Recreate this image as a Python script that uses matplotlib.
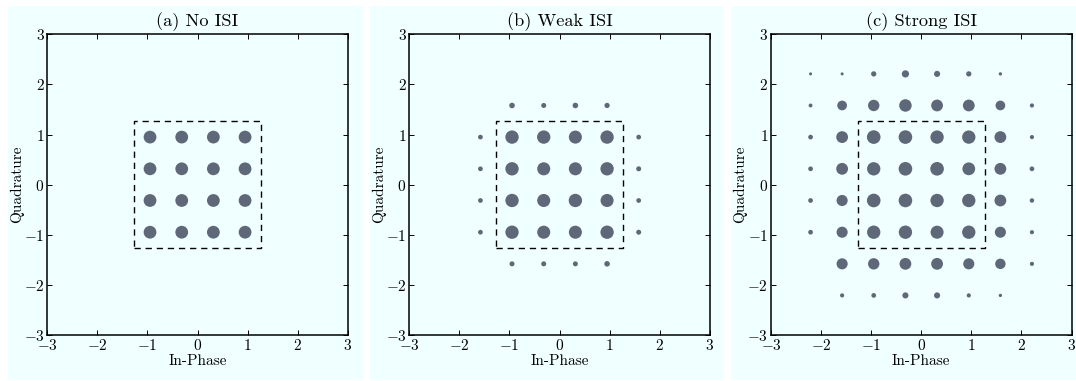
import numpy as np
import matplotlib
matplotlib.use('Agg')
import matplotlib.pyplot as plt
from matplotlib.patches import Rectangle

plt.rcParams['font.family'] = ['cmr10', 'DejaVu Serif']
plt.rcParams['mathtext.fontset'] = 'cm'
plt.rcParams['axes.formatter.use_mathtext'] = True
plt.rcParams['font.size'] = 11

# 64-point grid of symbol levels (16-QAM plus ISI spill-over), normalised
levels = [-2.21, -1.58, -0.949, -0.316, 0.316, 0.949, 1.58, 2.21]
titles = ['(a) No ISI', '(b) Weak ISI', '(c) Strong ISI']
box_half = 1.265

# apparent cloud diameter (pt) at each grid point, rows from top (Q=2.21) to bottom
size_a = [
    [0, 0, 0, 0, 0, 0, 0, 0],
    [0, 0, 0, 0, 0, 0, 0, 0],
    [0, 0, 9.2, 9.2, 9.2, 9.2, 0, 0],
    [0, 0, 9.2, 9.2, 9.2, 9.2, 0, 0],
    [0, 0, 9.2, 9.2, 9.2, 9.2, 0, 0],
    [0, 0, 9.2, 9.2, 9.2, 9.2, 0, 0],
    [0, 0, 0, 0, 0, 0, 0, 0],
    [0, 0, 0, 0, 0, 0, 0, 0],
]
size_b = [
    [0, 0, 0, 0, 0, 0, 0, 0],
    [0, 0, 4.0, 3.6, 4.0, 3.8, 0, 0],
    [0, 3.4, 9.6, 9.6, 9.4, 9.6, 3.4, 0],
    [0, 3.4, 9.6, 9.4, 9.4, 9.6, 3.6, 0],
    [0, 3.4, 9.6, 9.4, 9.6, 9.4, 3.4, 0],
    [0, 3.4, 9.6, 9.4, 9.4, 9.6, 3.6, 0],
    [0, 0, 3.6, 3.6, 3.6, 4.0, 0, 0],
    [0, 0, 0, 0, 0, 0, 0, 0],
]
size_c = [
    [2.2, 2.2, 3.8, 5.2, 4.4, 3.8, 2.4, 0],
    [2.8, 7.0, 8.2, 9.0, 8.5, 8.5, 7.0, 3.0],
    [3.4, 8.5, 9.8, 9.8, 9.6, 9.6, 8.5, 3.0],
    [3.4, 8.5, 9.6, 9.8, 9.8, 9.2, 8.5, 3.4],
    [3.4, 8.0, 9.8, 9.8, 9.6, 9.6, 8.5, 3.2],
    [3.4, 8.0, 9.6, 9.6, 9.4, 9.6, 8.0, 3.0],
    [0, 8.0, 8.2, 8.5, 8.5, 8.0, 7.5, 3.0],
    [0, 3.0, 3.4, 4.4, 4.4, 3.0, 2.4, 0],
]
sizes = [size_a, size_b, size_c]

W, H = 1076, 381
fig = plt.figure(figsize=(W / 100, H / 100), dpi=100)
bg = '#f0ffff'
dot = '#5f6878'

panels = [(8, 363), (370, 723), (731, 1076)]
ax_left = [47.3, 409.3, 771.0]

for k in range(3):
    x0, x1 = panels[k]
    # light panel backdrop behind each subplot
    back = fig.add_axes([x0 / W, 1 / H, (x1 - x0) / W, 374 / H], zorder=-5)
    back.set_facecolor(bg)
    back.axis('off')
    back.add_patch(Rectangle((0, 0), 1, 1, transform=back.transAxes,
                             facecolor=bg, edgecolor='none'))

    ax = fig.add_axes([ax_left[k] / W, 46 / H, 300.5 / W, 300.7 / H])
    ax.set_facecolor(bg)

    grid = np.array(sizes[k])
    xs, ys, ss = [], [], []
    for r, q in enumerate(levels[::-1]):
        for c, i in enumerate(levels):
            if grid[r, c] > 0:
                xs.append(i)
                ys.append(q)
                ss.append(grid[r, c] ** 2)
    ax.scatter(xs, ys, s=ss, c=dot, edgecolors='none', zorder=2)

    ax.plot([-box_half, box_half, box_half, -box_half, -box_half],
            [-box_half, -box_half, box_half, box_half, -box_half],
            'k--', lw=1.0, dashes=(4.5, 3.5), zorder=3)

    ax.set_xlim(-3, 3)
    ax.set_ylim(-3, 3)
    ax.set_xticks(range(-3, 4))
    ax.set_yticks(range(-3, 4))
    ax.tick_params(direction='in', length=3.5, width=0.7, top=True, right=True, pad=2)
    for sp in ax.spines.values():
        sp.set_linewidth(1.1)
    ax.set_title(titles[k], pad=6)
    ax.set_xlabel('In-Phase', labelpad=1)
    ax.set_ylabel('Quadrature', labelpad=0)

fig.savefig('out.png', dpi=100, facecolor='white')
